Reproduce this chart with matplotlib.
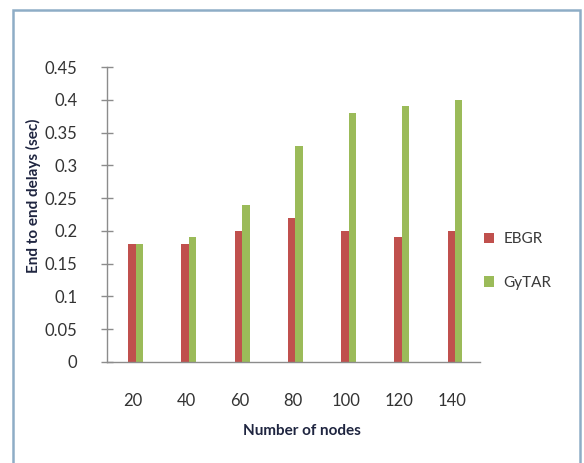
import numpy as np
import matplotlib.pyplot as plt
from matplotlib.patches import Rectangle

# ---- data ----
nodes = ["20", "40", "60", "80", "100", "120", "140"]
ebgr = [0.18, 0.18, 0.20, 0.22, 0.20, 0.19, 0.20]
gytar = [0.18, 0.19, 0.24, 0.33, 0.38, 0.39, 0.40]
y_ticks = [0, 0.05, 0.1, 0.15, 0.2, 0.25, 0.3, 0.35, 0.4, 0.45]
y_tick_labels = ["0", "0.05", "0.1", "0.15", "0.2", "0.25", "0.3", "0.35", "0.4", "0.45"]

plt.rcParams['font.family'] = ['Lato', 'DejaVu Sans']

fig = plt.figure(figsize=(5.84, 4.63), dpi=100)
fig.patch.set_facecolor('white')

# outer frame (open at the bottom)
fig.patches.append(Rectangle((13 / 584, -0.05), (580 - 13) / 584, 1 - 10 / 463 + 0.05,
                             transform=fig.transFigure, fill=False,
                             edgecolor='#8eadc6', linewidth=1.8))

ax = fig.add_axes([107 / 584, 1 - 362 / 463, (480 - 107) / 584, (362 - 67) / 463])

x = np.arange(len(nodes))
w = 0.14
shift = 0.05
ax.bar(x + shift - w / 2, ebgr, w, color='#c0504d', label='EBGR')
ax.bar(x + shift + w / 2, gytar, w, color='#9bbb59', label='GyTAR')

ax.set_ylim(0, 0.45)
ax.set_xlim(-0.49, 6.52)
ax.set_yticks(y_ticks)
ax.set_yticklabels(y_tick_labels)
ax.set_xticks(x)
ax.set_xticklabels(nodes)

for s in ['top', 'right']:
    ax.spines[s].set_visible(False)
for s in ['left', 'bottom']:
    ax.spines[s].set_color('#8c8c8c')
    ax.spines[s].set_linewidth(1.0)

ax.tick_params(axis='y', direction='inout', length=9, width=1.0, color='#8c8c8c',
               labelsize=12, labelcolor='#333333', pad=17)
ax.tick_params(axis='x', length=0, labelsize=12, labelcolor='#333333', pad=22)

fig.text(302 / 584, 1 - 431 / 463, "Number of nodes", ha='center', va='center',
         fontsize=11, fontweight='bold', color='#1f2540')
fig.text(33 / 584, 1 - 196 / 463, "End to end delays (sec)", ha='center', va='center',
         rotation=90, fontsize=11, fontweight='bold', color='#1f2540')

fig.legend(loc='center left', bbox_to_anchor=(470 / 584, 1 - 261 / 463), frameon=False,
           fontsize=11, labelcolor='#3a3a3a', handlelength=0.7, handleheight=0.7,
           handletextpad=0.6, labelspacing=1.9)

fig.savefig('out.png', dpi=100)
